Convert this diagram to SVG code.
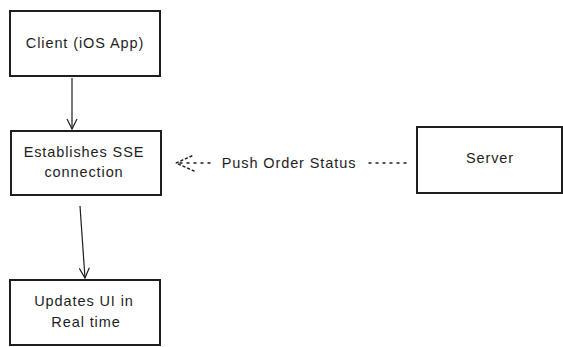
<svg xmlns="http://www.w3.org/2000/svg" width="563" height="347" viewBox="0 0 563 347">
<defs>
<style>
.box{fill:#fff;stroke:#1e1e1e;stroke-width:2}
.t{font-family:"Liberation Sans",Arial,sans-serif;font-size:14.5px;letter-spacing:0.9px;fill:#1e1e1e;text-anchor:middle}
.c{fill:none;stroke:#1e1e1e;stroke-width:1.2}
.d{fill:none;stroke:#1e1e1e;stroke-width:1.5;stroke-dasharray:2 5;stroke-linecap:round}
</style>
<marker id="ah" viewBox="0 0 12 12" refX="11" refY="6" markerWidth="12" markerHeight="12" markerUnits="userSpaceOnUse" orient="auto">
<path d="M1 1 L11 6 L1 11" fill="none" stroke="#1e1e1e" stroke-width="1.2"/>
</marker>
<marker id="ahd" viewBox="0 0 20 20" refX="19" refY="10" markerWidth="20" markerHeight="20" markerUnits="userSpaceOnUse" orient="auto">
<path d="M1 2 L19 10 L1 18" fill="none" stroke="#1e1e1e" stroke-width="1.5" stroke-dasharray="2 3" stroke-linecap="round"/>
</marker>
</defs>
<rect width="563" height="347" fill="#fff"/>
<g id="connectors">
<path class="c" d="M72 78 L72 129" marker-end="url(#ah)"/>
<path class="c" d="M80 206 L85 278" marker-end="url(#ah)"/>
<path class="d" d="M406 163 L368 163"/>
<path class="d" d="M210 163 L176 163" marker-end="url(#ahd)"/>
<text class="t" x="289" y="168">Push Order Status</text>
</g>
<g id="client">
<rect class="box" x="10" y="11" width="150" height="65"/>
<text class="t" x="85" y="48">Client (iOS App)</text>
</g>
<g id="sse">
<rect class="box" x="11" y="131" width="150" height="64"/>
<text class="t" x="84" y="157">Establishes SSE</text>
<text class="t" x="84" y="177">connection</text>
</g>
<g id="updates">
<rect class="box" x="10" y="280" width="150" height="65"/>
<text class="t" x="84" y="306">Updates UI in</text>
<text class="t" x="86" y="327">Real time</text>
</g>
<g id="server">
<rect class="box" x="417" y="127" width="145" height="66"/>
<text class="t" x="490" y="163">Server</text>
</g>
</svg>
